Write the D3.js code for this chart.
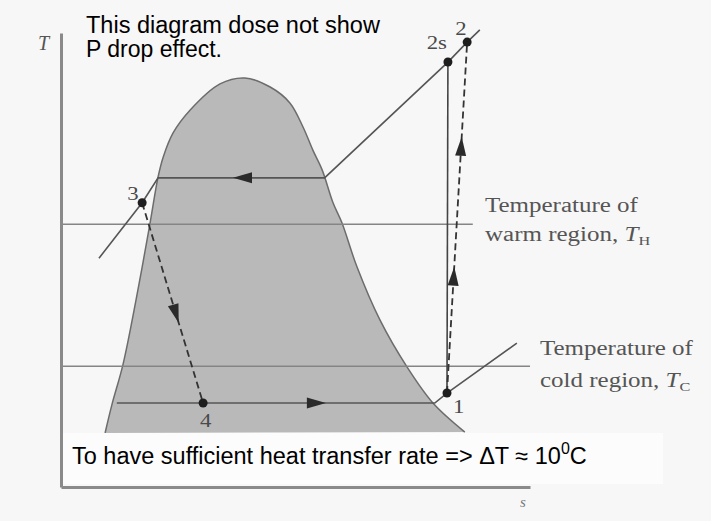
<!DOCTYPE html>
<html>
<head>
<meta charset="utf-8">
<script src="https://cdn.jsdelivr.net/npm/d3@7"></script>
<style>
body{margin:0;background:#f7f7f7}
</style>
</head>
<body>
<div class="bigvis"></div>
<script>
var width = 711
var height = 521

// saturation dome, s and T in arbitrary units (0..100)
var domeS = [9.4, 10.9, 13.2, 16.0, 19.0, 20.7, 21.8, 23.9, 27.5, 33.9, 39.2, 44.6, 48.8, 51.6, 53.7, 55.7, 58.0, 59.9, 63.1, 68.0, 73.8, 79.3, 86.1]
var domeT = [11.9, 18.3, 26.9, 41.2, 58.2, 68.3, 72.7, 78.0, 83.0, 88.8, 90.1, 88.1, 84.6, 79.3, 74.2, 69.8, 62.6, 58.2, 48.5, 36.8, 26.4, 18.5, 12.1]

// cycle states (f, g = sat. liquid / vapour at high P, e = sat. vapour at low P)
var stateNames = ["1", "2s", "2", "3", "4", "f", "g", "e"]
var stateS = [82.3, 82.5, 86.6, 17.3, 30.3, 20.7, 56.2, 79.7]
var stateT = [20.7, 93.6, 98.0, 62.6, 18.5, 68.1, 68.1, 18.5]
var labelled = ["1", "2s", "2", "3", "4"]

// isobars
var highPS = [8.1, 17.3, 20.7, 56.2, 82.5, 86.6, 89.3]
var highPT = [50.4, 62.6, 68.1, 68.1, 93.6, 98.0, 100.7]
var lowPS = [11.9, 79.7, 82.3, 97.2]
var lowPT = [18.5, 18.5, 20.7, 31.7]

// process arrows: along segment from -> to, at fraction
var arrowFrom = ["4", "g", "1", "1", "3"]
var arrowTo = ["e", "f", "2", "2", "4"]
var arrowAt = [0.53, 0.55, 0.36, 0.73, 0.6]

// region temperatures
var regionT = [57.9, 26.6]
var regionEnd = [87.8, 100]
var regionName = ["warm", "cold"]
var regionSub = ["H", "C"]

var x = d3.scaleLinear().domain([0, 100]).range([61, 530])
var y = d3.scaleLinear().domain([0, 100]).range([487, 33])

var svg = d3.select(".bigvis").append("svg")
        .attr("width", width)
        .attr("height", height)
        .style("display", "block")

svg.append("rect").attr("width", width).attr("height", height).attr("fill", "#f7f7f7")

var pt = {}
stateNames.forEach(function(n, i){ pt[n] = [stateS[i], stateT[i]] })

var line = d3.line()
    .x(function(d){ return x(d[0]) })
    .y(function(d){ return y(d[1]) })

// dome
svg.append("path")
    .datum(d3.zip(domeS, domeT))
    .attr("d", d3.line().x(function(d){ return x(d[0]) }).y(function(d){ return y(d[1]) }).curve(d3.curveCatmullRom.alpha(0.5)))
    .attr("fill", "#b9b9b9")
    .attr("stroke", "#6c6c6c")
    .attr("stroke-width", 1.5)

// region lines
regionT.forEach(function(t, i){
  svg.append("line")
      .attr("x1", x(0)).attr("x2", x(regionEnd[i]))
      .attr("y1", y(t)).attr("y2", y(t))
      .attr("stroke", "#858585")
      .attr("stroke-width", 1.5)
})

// isobars
svg.append("path")
    .datum(d3.zip(highPS, highPT))
    .attr("d", line)
    .attr("fill", "none").attr("stroke", "#555").attr("stroke-width", 1.6)
svg.append("path")
    .datum(d3.zip(lowPS, lowPT))
    .attr("d", line)
    .attr("fill", "none").attr("stroke", "#555").attr("stroke-width", 1.6)

// isentropic compression 1-2s
svg.append("path")
    .datum([pt["1"], pt["2s"]])
    .attr("d", line)
    .attr("fill", "none").attr("stroke", "#444").attr("stroke-width", 1.6)

// actual compression 1-2 and throttling 3-4
;[["1", "2"], ["3", "4"]].forEach(function(p){
  svg.append("path")
      .datum([pt[p[0]], pt[p[1]]])
      .attr("d", line)
      .attr("fill", "none").attr("stroke", "#333").attr("stroke-width", 1.8)
      .attr("stroke-dasharray", "7,4")
})

// arrows
arrowFrom.forEach(function(a, i){
  var x0 = x(pt[a][0]), y0 = y(pt[a][1])
  var x1 = x(pt[arrowTo[i]][0]), y1 = y(pt[arrowTo[i]][1])
  var t = arrowAt[i]
  var ang = Math.atan2(y1 - y0, x1 - x0) * 180 / Math.PI
  svg.append("path")
      .attr("d", "M0,0L-19,-5.5L-19,5.5Z")
      .attr("fill", "#2a2a2a")
      .attr("transform", "translate(" + (x0 + t*(x1-x0)) + "," + (y0 + t*(y1-y0)) + ") rotate(" + ang + ")")
})

// state dots and labels
var off = {"1": [6, 20], "2s": [-1, -13], "2": [-12, -7], "3": [-15, -3], "4": [-3, 24]}
labelled.forEach(function(n){
  var cx = x(pt[n][0]), cy = y(pt[n][1])
  svg.append("circle").attr("cx", cx).attr("cy", cy).attr("r", 4.5).attr("fill", "#1e1e1e")
  svg.append("text")
      .attr("transform", "translate(" + (cx + off[n][0]) + "," + (cy + off[n][1]) + ") scale(1.2,1)")
      .attr("text-anchor", n == "2s" ? "end" : "start")
      .attr("font-family", "Liberation Serif")
      .attr("font-size", 19)
      .attr("fill", "#4a4a4a")
      .text(n)
})

// region labels
var labX = [485, 540], labY1 = [212, 355], labY2 = [241, 387]
regionName.forEach(function(r, i){
  var g = svg.append("g")
      .attr("font-family", "Liberation Serif")
      .attr("font-size", 20)
      .attr("fill", "#555")
  g.append("text")
      .attr("transform", "translate(" + labX[i] + "," + labY1[i] + ") scale(1.25,1)")
      .text("Temperature of")
  var t2 = g.append("text")
      .attr("transform", "translate(" + labX[i] + "," + labY2[i] + ") scale(1.25,1)")
  t2.append("tspan").text(r + " region, ")
  t2.append("tspan").attr("font-style", "italic").text("T")
  t2.append("tspan").attr("font-size", 13).attr("dy", 4).text(regionSub[i])
})

// axes
svg.append("g")
    .attr("transform", "translate(0," + y(0) + ")")
    .call(d3.axisBottom(x).tickValues([]).tickSizeOuter(0))
svg.append("g")
    .attr("transform", "translate(" + x(0) + ",0)")
    .call(d3.axisLeft(y).tickValues([]).tickSizeOuter(0))
svg.selectAll(".domain").attr("stroke", "#8a8a8a").attr("stroke-width", 3)

svg.append("text")
    .attr("x", 38).attr("y", 50)
    .attr("font-family", "Liberation Serif").attr("font-style", "italic")
    .attr("font-size", 20).attr("fill", "#555")
    .text("T")
svg.append("text")
    .attr("x", 520).attr("y", 507)
    .attr("font-family", "Liberation Serif").attr("font-style", "italic")
    .attr("font-size", 15).attr("fill", "#777")
    .text("s")

// notes
svg.append("rect")
    .attr("x", x(0) + 2).attr("y", y(domeT[0]))
    .attr("width", 600).attr("height", y(0) - y(domeT[0]) - 3)
    .attr("fill", "#fcfcfc")

var note = svg.append("g")
    .attr("font-family", "Liberation Sans, Arial, sans-serif")
    .attr("font-size", 23)
    .attr("fill", "#000")
note.append("text").attr("x", 86).attr("y", 33).attr("font-size", 23.5).text("This diagram dose not show")
note.append("text").attr("x", 86).attr("y", 57).text("P drop effect.")
var bt = note.append("text").attr("x", 72).attr("y", 464).attr("font-size", 23.5)
bt.append("tspan").text("To have sufficient heat transfer rate => \u0394T \u2248 10")
bt.append("tspan").attr("font-size", 16).attr("dy", -10).text("0")
bt.append("tspan").attr("dy", 10).text("C")
</script>
</body>
</html>
